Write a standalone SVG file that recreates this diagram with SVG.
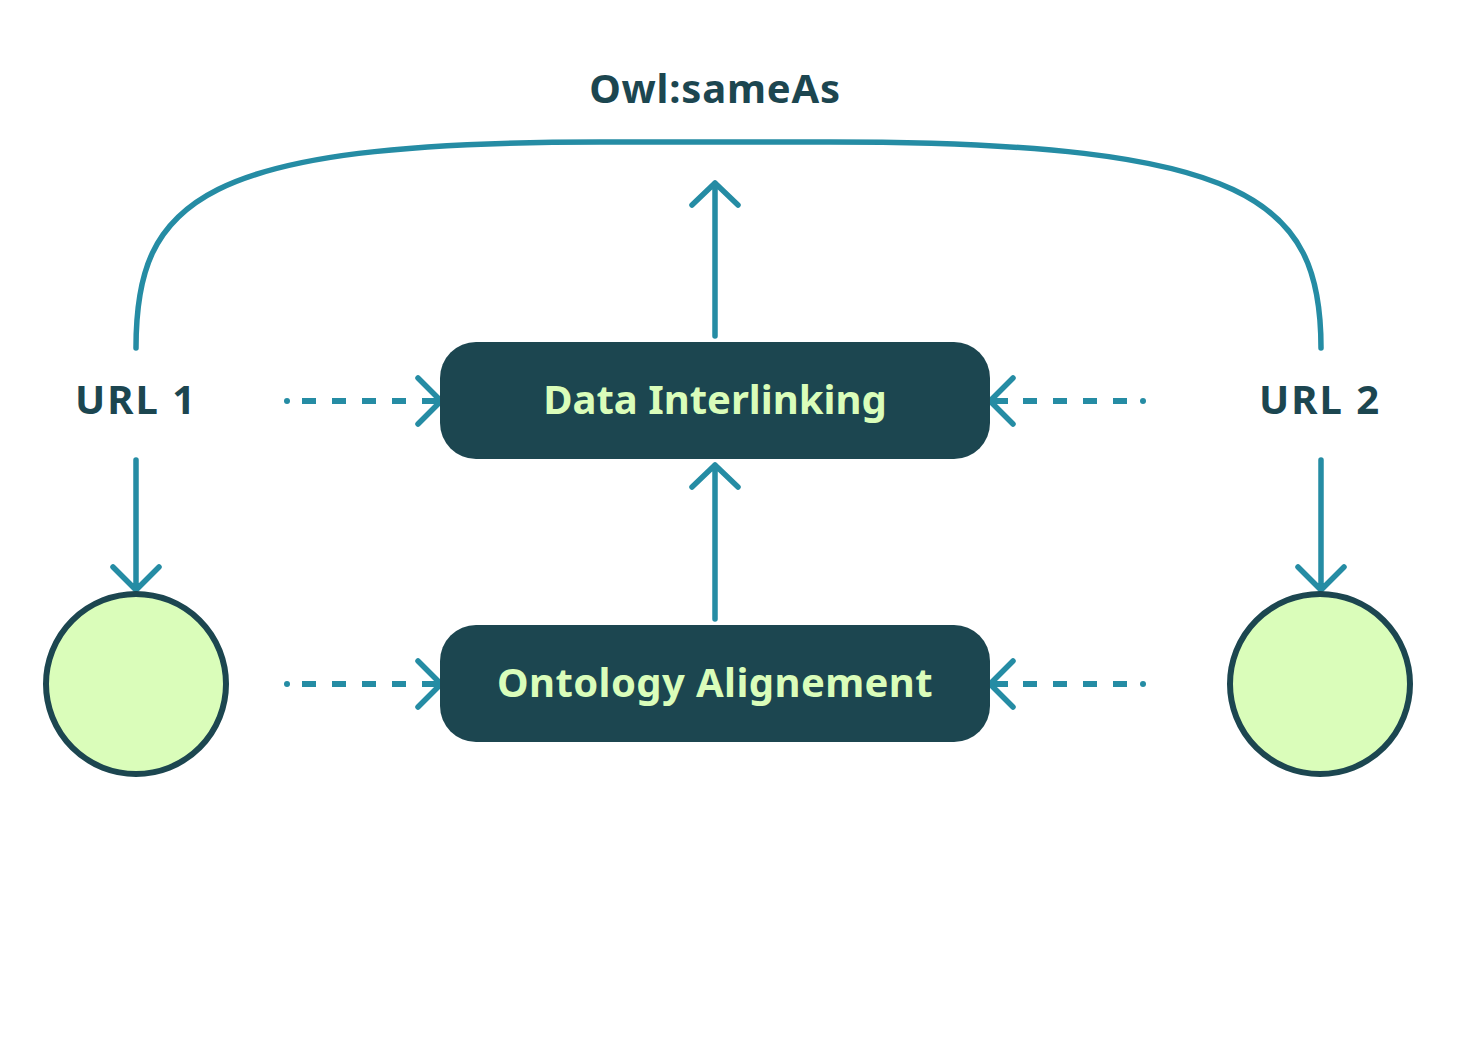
<svg xmlns="http://www.w3.org/2000/svg" width="1479" height="1051" viewBox="0 0 1479 1051">
<style>
.ln{fill:none;stroke:#258ca4;stroke-width:5.5;stroke-linecap:round;stroke-linejoin:round}
.dl{fill:none;stroke:#258ca4;stroke-width:6;stroke-linecap:butt}
.box{fill:#1c4650}
.bt{font-family:"Noto Sans","Liberation Sans",sans-serif;font-weight:700;font-size:40px;fill:#dafdba;text-anchor:middle}
.lt{font-family:"Noto Sans","Liberation Sans",sans-serif;font-weight:700;font-size:40px;fill:#1c4650;text-anchor:middle}
.cir{fill:#dafdba;stroke:#1c4650;stroke-width:6}
.dot{fill:#258ca4}
</style>
<rect width="1479" height="1051" fill="#fff"/>
<g id="connectors">
<path class="ln" d="M136,348 C136,200 200,142 600,142 L830,142 C1250,142 1321,200 1321,348"/>
<path class="ln" d="M715,336 V183 M692,205 L715,183 L738,205"/>
<path class="ln" d="M715,619 V465 M692,487 L715,465 L738,487"/>
<path class="ln" d="M136,460 V590 M113,567 L136,590 L159,567"/>
<path class="ln" d="M1321,460 V590 M1298,567 L1321,590 L1344,567"/>
<g>
<path class="dl" d="M302,401 h14 M332,401 h14 M362,401 h14 M392,401 h14 M422,401 h16"/>
<circle class="dot" cx="287" cy="401" r="3"/>
<path class="ln" d="M418,378 L441,401 L418,424"/>
</g>
<g>
<path class="dl" d="M992,401 h16 M1023,401 h14 M1053,401 h14 M1083,401 h14 M1113,401 h14"/>
<circle class="dot" cx="1143" cy="401" r="3"/>
<path class="ln" d="M1013,378 L990,401 L1013,424"/>
</g>
<g>
<path class="dl" d="M302,684 h14 M332,684 h14 M362,684 h14 M392,684 h14 M422,684 h16"/>
<circle class="dot" cx="287" cy="684" r="3"/>
<path class="ln" d="M418,661 L441,684 L418,707"/>
</g>
<g>
<path class="dl" d="M992,684 h16 M1023,684 h14 M1053,684 h14 M1083,684 h14 M1113,684 h14"/>
<circle class="dot" cx="1143" cy="684" r="3"/>
<path class="ln" d="M1013,661 L990,684 L1013,707"/>
</g>
</g>
<g id="label-sameas"><text class="lt" x="715" y="103" letter-spacing="0.8">Owl:sameAs</text></g>
<g id="url1"><text class="lt" x="136" y="414" letter-spacing="2">URL 1</text></g>
<g id="url2"><text class="lt" x="1320" y="414" letter-spacing="2">URL 2</text></g>
<g id="data-interlinking"><rect class="box" x="440" y="342" width="550" height="117" rx="36"/><text class="bt" x="715" y="414">Data Interlinking</text></g>
<g id="ontology-alignement"><rect class="box" x="440" y="625" width="550" height="117" rx="36"/><text class="bt" x="715" y="697" letter-spacing="0.4">Ontology Alignement</text></g>
<g id="circle1"><circle class="cir" cx="136" cy="684" r="90"/></g>
<g id="circle2"><circle class="cir" cx="1320" cy="684" r="90"/></g>
</svg>
